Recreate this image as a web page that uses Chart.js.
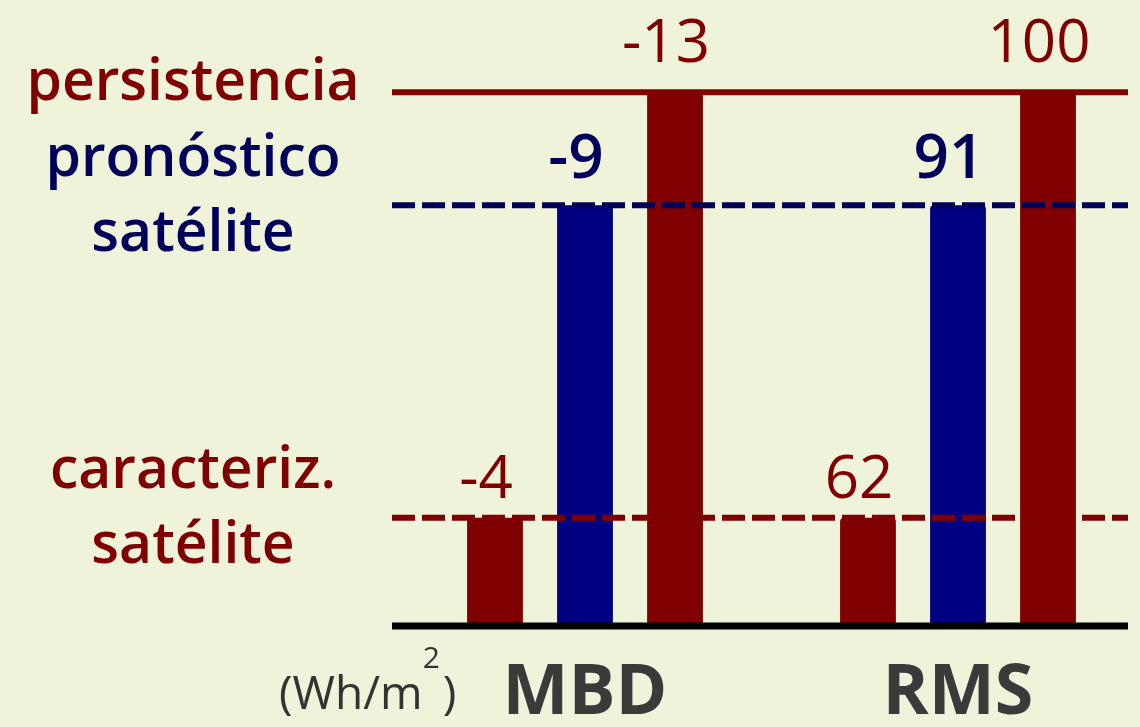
<!DOCTYPE html>
<html lang="es">
<head>
<meta charset="utf-8">
<title>MBD y RMS</title>
<script src="https://cdn.jsdelivr.net/npm/chart.js@4.4.1/dist/chart.umd.min.js"></script>
<style>
  html, body { margin:0; padding:0; background:#eef3da; }
  #wrap { position:relative; width:1140px; height:727px; }
</style>
</head>
<body>
<div id="wrap"><canvas id="chart-errores"></canvas></div>
<script>
/* ── Datos ── */
var CATEGORIAS = ['MBD', 'RMS'];
var METODOS = ['caracteriz. satélite', 'pronóstico satélite', 'persistencia'];
var ROTULOS = [['caracteriz.', 'satélite'], ['pronóstico', 'satélite'], ['persistencia']];
var VALORES_MBD = [-4, -9, -13];
var VALORES_RMS = [62, 91, 100];
var NIVELES = [1.08, 4.2, 5.33];   // escalón de cada método (altura de la barra)

/* ── Estilo ── */
var FONT = "'Open Sans', sans-serif";
var COLORES_BARRA = ['#800000', '#000080', '#800000'];
var COLORES_TEXTO = ['#800000', '#00005a', '#800000'];
var COLORES_LINEA = ['#800000', '#000058', '#800000'];
var TRAZOS = [[23, 7], [23, 7], []];
var SEPARACION_VALOR = [20, 27, 30];   // px entre la barra y su valor
var LINEA_X0 = 392, LINEA_X1 = 1128;
var CENTRO_ROTULOS = 193;

var nivelesPlugin = {
  id: 'niveles',
  afterDatasetsDraw: function(chart) {
    var ctx = chart.ctx;
    var y = chart.scales.y;
    ctx.save();

    // líneas de referencia de cada método, por encima de las barras
    METODOS.forEach(function(m, i) {
      var py = y.getPixelForValue(NIVELES[i]);
      ctx.beginPath();
      ctx.setLineDash(TRAZOS[i]);
      ctx.lineWidth = 6;
      ctx.strokeStyle = COLORES_LINEA[i];
      ctx.moveTo(LINEA_X0, py);
      ctx.lineTo(LINEA_X1, py);
      ctx.stroke();
    });

    // eje base
    var y0 = y.getPixelForValue(0);
    ctx.beginPath();
    ctx.setLineDash([]);
    ctx.lineWidth = 7;
    ctx.strokeStyle = '#000';
    ctx.moveTo(LINEA_X0, y0);
    ctx.lineTo(LINEA_X1, y0);
    ctx.stroke();

    // valores encima de cada barra
    ctx.textAlign = 'center';
    ctx.textBaseline = 'alphabetic';
    chart.data.datasets.forEach(function(ds, i) {
      var meta = chart.getDatasetMeta(i);
      ctx.fillStyle = COLORES_TEXTO[i];
      ctx.font = (i === 1 ? '600 62px ' : '500 60px ') + FONT;
      meta.data.forEach(function(bar, j) {
        ctx.fillText(String(ds.valores[j]), bar.x - 9, bar.y - SEPARACION_VALOR[i]);
      });
    });

    // rótulos de los métodos a la izquierda
    ctx.font = '600 57px ' + FONT;
    ROTULOS.forEach(function(lineas, i) {
      var py = y.getPixelForValue(NIVELES[i]) + 8;
      ctx.fillStyle = COLORES_TEXTO[i];
      lineas.forEach(function(t, k) {
        ctx.fillText(t, CENTRO_ROTULOS, py + (k - (lineas.length - 1) / 2) * 75);
      });
    });

    // unidades (Wh/m²)
    var ux = 279;
    ctx.fillStyle = '#333';
    ctx.textAlign = 'left';
    ctx.font = '400 46px ' + FONT;
    ctx.fillText('(Wh/m', ux, 709);
    ux += ctx.measureText('(Wh/m').width;
    ctx.font = '400 30px ' + FONT;
    ctx.fillText('2', ux, 668);
    ux += ctx.measureText('2').width + 3;
    ctx.font = '400 46px ' + FONT;
    ctx.fillText(')', ux, 709);

    ctx.restore();
  }
};

function crearDatasets() {
  return METODOS.map(function(m, i) {
    return {
      label: m,
      data: [NIVELES[i], NIVELES[i]],
      valores: [VALORES_MBD[i], VALORES_RMS[i]],
      backgroundColor: COLORES_BARRA[i],
      borderRadius: 4,
      borderSkipped: false,
      categoryPercentage: 0.724,
      barPercentage: 0.62,
      clip: false
    };
  });
}

var ctx = document.getElementById('chart-errores').getContext('2d');
new Chart(ctx, {
  type: 'bar',
  data: { labels: CATEGORIAS, datasets: crearDatasets() },
  options: {
    responsive: true,
    maintainAspectRatio: false,
    animation: false,
    layout: { padding: { left: 585, right: 182, top: 0, bottom: 0 } },
    plugins: { legend: { display: false }, tooltip: { enabled: false } },
    scales: {
      x: {
        offset: false,
        grid: { display: false },
        border: { display: false },
        ticks: { color: '#3a3a3a', padding: 18, font: { family: FONT, size: 70, weight: 'bold' } },
        afterFit: function(scale) { scale.height = 101; }
      },
      y: { display: false, min: 0, max: 6.25 }
    }
  },
  plugins: [nivelesPlugin]
});
</script>
</body>
</html>
